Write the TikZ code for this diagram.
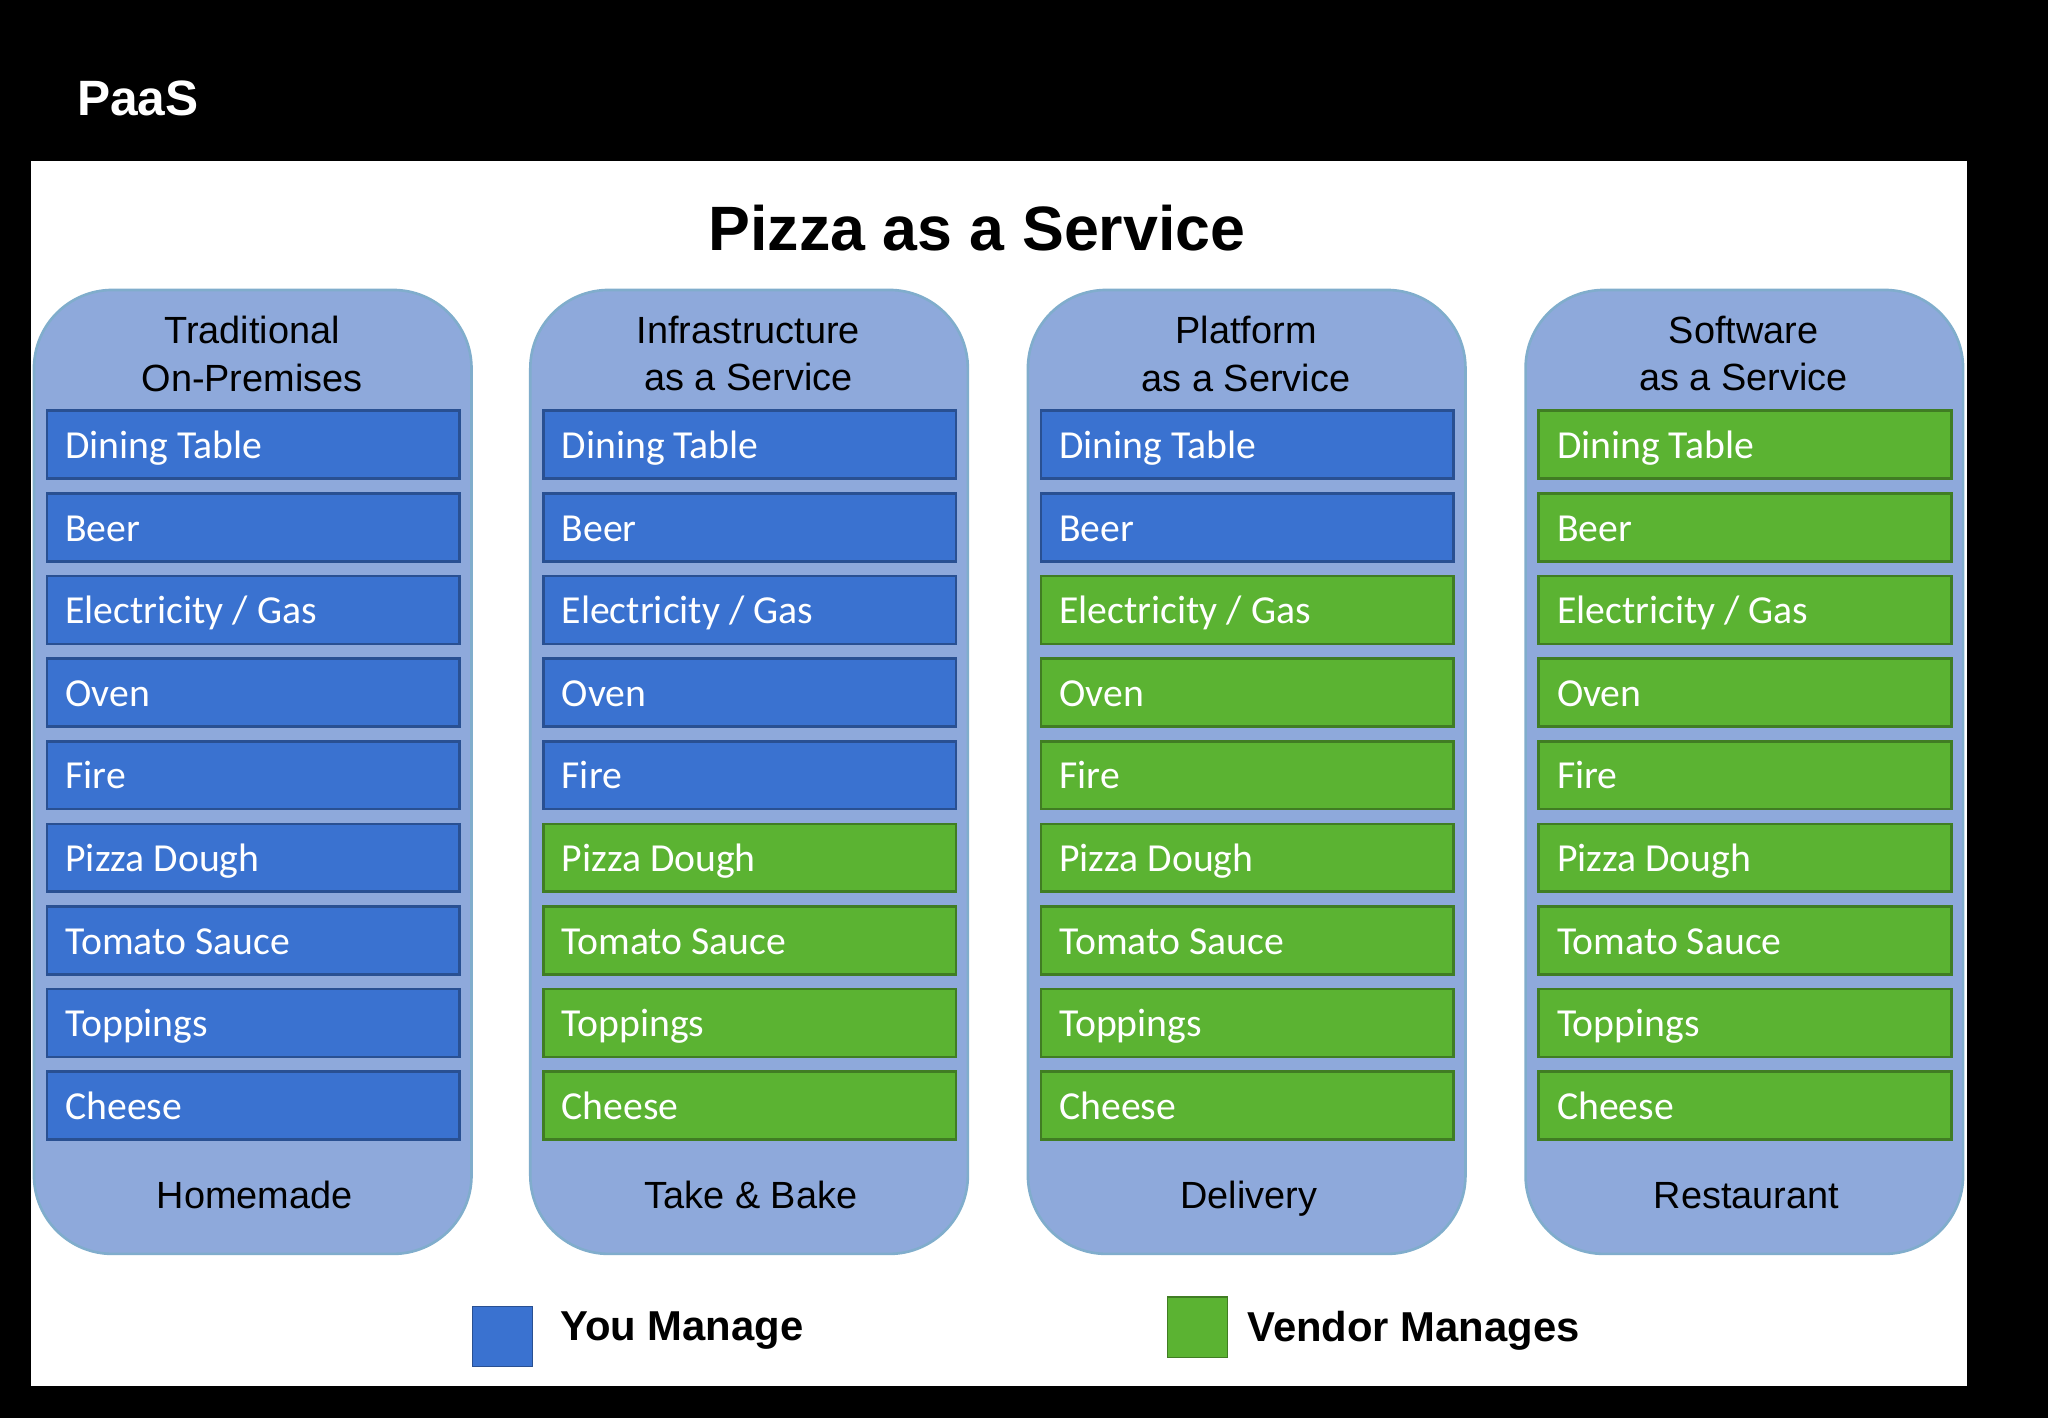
\documentclass[tikz,border=0pt]{standalone}
\usepackage{fontspec}
\setmainfont{Liberation Sans}
\newfontfamily\carlitofont{Carlito}
\begin{document}
\begin{tikzpicture}[x=0.5pt,y=-0.5pt,
 col/.style={draw=blue!40!cyan!60!black!50, line width=1pt, fill=colbg, rounded corners=30pt},
 bar/.style={draw=#1!70!black, line width=1pt, fill=#1, minimum width=158pt, minimum height=26pt, inner sep=0pt},
 bt/.style={text=white, font=\carlitofont\fontsize{15.2}{17}\selectfont, anchor=west, text height=10.5pt, text depth=3pt},
 hd/.style={font=\fontsize{14.5}{18}\selectfont, align=center, text=black},
 ft/.style={font=\fontsize{14.5}{18}\selectfont, text=black, text height=10.5pt, text depth=3pt}]
\definecolor{colbg}{HTML}{8EA9DB}
\definecolor{bl}{HTML}{3A72D0}
\definecolor{gr}{HTML}{5BB332}
\useasboundingbox (0,0) rectangle (1568,1086);
\fill[black] (0,0) rectangle (1568,1086);
\fill[white] (24,123) rectangle (1506,1061);
\node[text=white, font=\bfseries\fontsize{19}{22}\selectfont, anchor=west] (paas) at (52,75) {PaaS};
\node[font=\bfseries\fontsize{24}{28}\selectfont] (title) at (748,175) {Pizza as a Service};
\def\items{{"Dining Table","Beer","Electricity / Gas","Oven","Fire","Pizza Dough","Tomato Sauce","Toppings","Cheese"}}
\foreach \c/\x/\h/\f/\nb in {0/26/{Traditional\\On-Premises}/Homemade/9, 1/406/{Infrastructure\\as a Service}/Take \& Bake/5, 2/787/{Platform\\as a Service}/Delivery/2, 3/1168/{Software\\as a Service}/Restaurant/0}{
  \draw[col] (\x,222) rectangle ++(335,738);
  \node[hd] (h\c) at (\x+167,271) {\h};
  \node[ft] (f\c) at (\x+169,918) {\f};
  \foreach \i in {0,...,8}{
    \pgfmathsetmacro{\yy}{340.5+\i*63.25}
    \pgfmathparse{\i<\nb?"bl":"gr"}\edef\cc{\pgfmathresult}
    \pgfmathparse{\items[\i]}\edef\tt{\pgfmathresult}
    \node[bar=\cc] (b\c\i) at (\x+168,\yy) {};
    \node[bt] (t\c\i) at (\x+17,\yy+3) {\tt};
  }
}
\node[draw=bl!70!black, fill=bl, minimum size=23pt, inner sep=0pt] (lb) at (385,1023) {};
\node[anchor=west, font=\bfseries\fontsize{16}{20}\selectfont] (lbt) at (422,1019) {You Manage};
\node[draw=gr!70!black, fill=gr, minimum size=23pt, inner sep=0pt] (lg) at (917,1016) {};
\node[anchor=west, font=\bfseries\fontsize{16}{20}\selectfont] (lgt) at (948,1019) {Vendor Manages};
\end{tikzpicture}
\end{document}
